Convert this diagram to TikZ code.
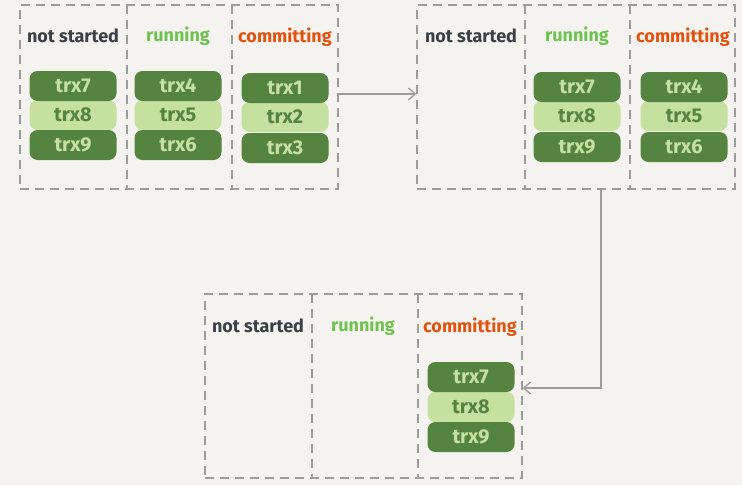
\documentclass[tikz,border=0pt]{standalone}
\usepackage{fontspec}
\setmainfont{Fira Sans}
\usetikzlibrary{arrows.meta}
\definecolor{bgpaper}{HTML}{F4F3EF}
\definecolor{frame}{HTML}{9C9C9C}
\definecolor{darkgreen}{HTML}{54843F}
\definecolor{lightgreen}{HTML}{C6E0A0}
\definecolor{slate}{HTML}{3A4045}
\definecolor{leaf}{HTML}{6EC24E}
\definecolor{ember}{HTML}{E1520F}
\tikzset{
  panel/.style={draw=frame, line width=1.4pt, dash pattern=on 9pt off 6pt, inner sep=0pt},
  divider/.style={draw=frame, line width=1.4pt, dash pattern=on 9pt off 6pt},
  blk/.style={rounded corners=8pt, minimum width=87pt, minimum height=30pt, inner sep=0pt,
    font=\fontsize{20}{20}\selectfont\bfseries},
  darkblk/.style={blk, fill=darkgreen, text=lightgreen},
  lightblk/.style={blk, fill=lightgreen, text=darkgreen},
  head/.style={font=\fontsize{18}{18}\selectfont\bfseries, anchor=center},
  flow/.style={draw=frame, line width=1.3pt, -{Straight Barb[length=7pt,width=12pt,line width=1.3pt]}},
}
\begin{document}
\begin{tikzpicture}[x=1pt, y=-1pt]
\useasboundingbox[fill=bgpaper] (0,0) rectangle (742,485);

% ---- first state ----
\node[panel, minimum width=318pt, minimum height=184pt] (p1) at (179,97) {};
\draw[divider] (127,5) -- (127,189);
\draw[divider] (232,5) -- (232,189);
\node[head, text=slate] (p1ns) at (73,36) {not started};
\node[head, text=leaf] (p1run) at (178,36) {running};
\node[head, text=ember] (p1com) at (285,37) {committing};
\node[lightblk] (a8) at (73,115) {trx8};
\node[darkblk] (a7) at (73,86) {trx7};
\node[darkblk] (a9) at (73,145) {trx9};
\node[lightblk] (a5) at (178,115) {trx5};
\node[darkblk] (a4) at (178,86) {trx4};
\node[darkblk] (a6) at (178,145) {trx6};
\node[lightblk] (a2) at (285,117) {trx2};
\node[darkblk] (a1) at (285,88) {trx1};
\node[darkblk] (a3) at (285,148) {trx3};

% ---- second state ----
\node[panel, minimum width=318pt, minimum height=184pt] (p2) at (576,97) {};
\draw[divider] (525,5) -- (525,189);
\draw[divider] (630,5) -- (630,189);
\node[head, text=slate] (p2ns) at (471,36) {not started};
\node[head, text=leaf] (p2run) at (577,36) {running};
\node[head, text=ember] (p2com) at (683,37) {committing};
\node[lightblk] (b8) at (577,116) {trx8};
\node[darkblk] (b7) at (577,87) {trx7};
\node[darkblk] (b9) at (577,147) {trx9};
\node[lightblk] (b5) at (684,116) {trx5};
\node[darkblk] (b4) at (684,87) {trx4};
\node[darkblk] (b6) at (684,147) {trx6};

% ---- third state ----
\node[panel, minimum width=317pt, minimum height=184pt] (p3) at (363.5,386) {};
\draw[divider] (312,294) -- (312,478);
\draw[divider] (418,294) -- (418,478);
\node[head, text=slate] (p3ns) at (258,326) {not started};
\node[head, text=leaf] (p3run) at (363,326) {running};
\node[head, text=ember] (p3com) at (470,327) {committing};
\node[lightblk] (c8) at (471,407) {trx8};
\node[darkblk] (c7) at (471,377) {trx7};
\node[darkblk] (c9) at (471,437) {trx9};

% ---- transitions ----
\draw[flow] ([yshift=3pt]p1.east) -- ([yshift=3pt]p2.west);
\coordinate (turn) at (601,388);
\draw[flow] (turn |- p2.south) -- (turn) -- (turn -| p3.east);
\end{tikzpicture}
\end{document}
